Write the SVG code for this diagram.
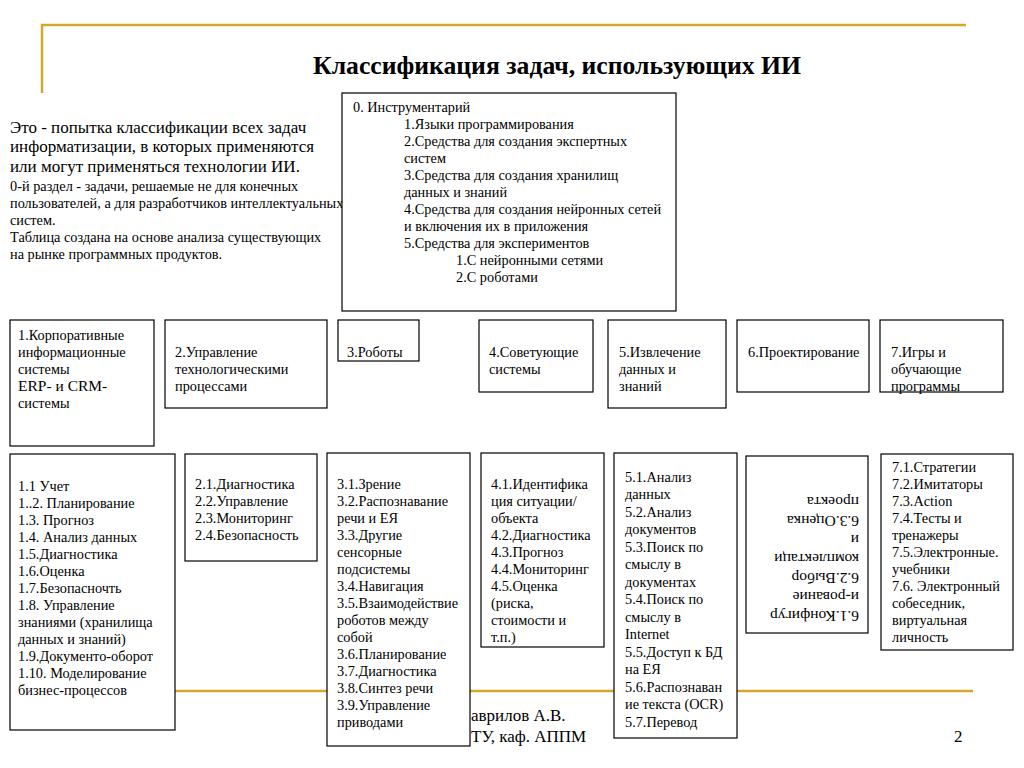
<svg xmlns="http://www.w3.org/2000/svg" width="1024" height="768" viewBox="0 0 1024 768">
<style>
.box{fill:#fff;stroke:#000;stroke-width:1.2}
.t{font-family:"Liberation Serif","Times New Roman",serif;font-size:14.3px;fill:#000}
.big{font-family:"Liberation Serif","Times New Roman",serif;font-size:17px;fill:#000}
.gold{stroke:#D2A92C;stroke-width:2.5;fill:none}
</style>
<rect width="1024" height="768" fill="#fff"/>
<g id="frame">
<path class="gold" d="M42,93 V25 H966"/>
<line class="gold" x1="42" y1="691" x2="973" y2="691"/>
</g>
<text x="313" y="74" textLength="488" lengthAdjust="spacingAndGlyphs" style="font-family:'Liberation Serif','Times New Roman',serif;font-size:25px;font-weight:bold">Классификация задач, использующих ИИ</text>
<g id="intro">
<text class="big" x="10" y="133">Это - попытка классификации всех задач</text>
<text class="big" x="10" y="152">информатизации, в которых применяются</text>
<text class="big" x="10" y="172">или могут применяться технологии ИИ.</text>
<text class="t" x="10" y="191">0-й раздел - задачи, решаемые не для конечных</text>
<text class="t" x="10" y="208">пользователей, а для разработчиков интеллектуальных</text>
<text class="t" x="10" y="225">систем.</text>
<text class="t" x="10" y="242">Таблица создана на основе анализа существующих</text>
<text class="t" x="10" y="259">на рынке программных продуктов.</text>
</g>
<g id="connectors"></g>
<g id="n0">
<rect class="box" x="342" y="93" width="334" height="218"/>
<text class="t"><tspan x="353" y="111.5">0. Инструментарий</tspan><tspan x="404" y="129">1.Языки программирования</tspan><tspan x="404" y="146">2.Средства для создания экспертных</tspan><tspan x="404" y="163">систем</tspan><tspan x="404" y="180">3.Средства для создания хранилищ</tspan><tspan x="404" y="197">данных и знаний</tspan><tspan x="404" y="214">4.Средства для создания нейронных сетей</tspan><tspan x="404" y="231">и включения их в приложения</tspan><tspan x="404" y="248">5.Средства для экспериментов</tspan><tspan x="456" y="265">1.С нейронными сетями</tspan><tspan x="456" y="282">2.С роботами</tspan></text>
</g>
<g id="n1">
<rect class="box" x="10" y="320" width="144" height="126"/>
<text class="t"><tspan x="18" y="339.5">1.Корпоративные</tspan><tspan x="18" y="356.5">информационные</tspan><tspan x="18" y="373.5">системы</tspan><tspan x="18" y="390.5" style="font-size:15.5px">ERP- и CRM-</tspan><tspan x="18" y="407.5">системы</tspan></text>
</g>
<g id="n2">
<rect class="box" x="165" y="320" width="162" height="88"/>
<text class="t"><tspan x="175" y="356.5">2.Управление</tspan><tspan x="175" y="373.5">технологическими</tspan><tspan x="175" y="390.5">процессами</tspan></text>
</g>
<g id="n3">
<rect class="box" x="338" y="320" width="81" height="41"/>
<text class="t" x="347" y="356.5">3.Роботы</text>
</g>
<g id="n4">
<rect class="box" x="479" y="320" width="114" height="72"/>
<text class="t"><tspan x="489" y="356.5">4.Советующие</tspan><tspan x="489" y="373.5">системы</tspan></text>
</g>
<g id="n5">
<rect class="box" x="608" y="320" width="118" height="88"/>
<text class="t"><tspan x="619" y="356.5">5.Извлечение</tspan><tspan x="619" y="373.5">данных и</tspan><tspan x="619" y="390.5">знаний</tspan></text>
</g>
<g id="n6">
<rect class="box" x="737" y="320" width="132" height="72"/>
<text class="t" x="748" y="356.5">6.Проектирование</text>
</g>
<g id="n7">
<rect class="box" x="880" y="320" width="123" height="72"/>
<text class="t"><tspan x="891" y="356.5">7.Игры и</tspan><tspan x="891" y="373.5">обучающие</tspan><tspan x="891" y="390.5">программы</tspan></text>
</g>
<g id="n1_1">
<rect class="box" x="10" y="454" width="165" height="276"/>
<text class="t"><tspan x="18" y="490.5">1.1 Учет</tspan><tspan x="18" y="507.5">1..2. Планирование</tspan><tspan x="18" y="524.5">1.3. Прогноз</tspan><tspan x="18" y="541.5">1.4. Анализ данных</tspan><tspan x="18" y="558.5">1.5.Диагностика</tspan><tspan x="18" y="575.5">1.6.Оценка</tspan><tspan x="18" y="592.5">1.7.Безопасночть</tspan><tspan x="18" y="609.5">1.8. Управление</tspan><tspan x="18" y="626.5">знаниями (хранилища</tspan><tspan x="18" y="643.5">данных и знаний)</tspan><tspan x="18" y="660.5">1.9.Документо-оборот</tspan><tspan x="18" y="677.5">1.10. Моделирование</tspan><tspan x="18" y="694.5">бизнес-процессов</tspan></text>
</g>
<g id="n2_1">
<rect class="box" x="185" y="454" width="132" height="107"/>
<text class="t"><tspan x="195" y="488.5">2.1.Диагностика</tspan><tspan x="195" y="505.5">2.2.Управление</tspan><tspan x="195" y="522.5">2.3.Мониторинг</tspan><tspan x="195" y="539.5">2.4.Безопасность</tspan></text>
</g>
<g id="footer">
<text class="big" x="471" y="721">аврилов А.В.</text>
<text class="big" x="471" y="742">ТУ, каф. АППМ</text>
<text class="big" x="954" y="742">2</text>
</g>
<g id="n3_1">
<rect class="box" x="327" y="453" width="143" height="293"/>
<text class="t"><tspan x="337" y="488.5">3.1.Зрение</tspan><tspan x="337" y="505.5">3.2.Распознавание</tspan><tspan x="337" y="522.5">речи и ЕЯ</tspan><tspan x="337" y="539.5">3.3.Другие</tspan><tspan x="337" y="556.5">сенсорные</tspan><tspan x="337" y="573.5">подсистемы</tspan><tspan x="337" y="590.5">3.4.Навигация</tspan><tspan x="337" y="607.5">3.5.Взаимодействие</tspan><tspan x="337" y="624.5">роботов между</tspan><tspan x="337" y="641.5">собой</tspan><tspan x="337" y="658.5">3.6.Планирование</tspan><tspan x="337" y="675.5">3.7.Диагностика</tspan><tspan x="337" y="692.5">3.8.Синтез речи</tspan><tspan x="337" y="709.5">3.9.Управление</tspan><tspan x="337" y="726.5">приводами</tspan></text>
</g>
<g id="n4_1">
<rect class="box" x="481" y="453" width="123" height="194"/>
<text class="t"><tspan x="491" y="488.5">4.1.Идентифика</tspan><tspan x="491" y="505.5">ция ситуации/</tspan><tspan x="491" y="522.5">объекта</tspan><tspan x="491" y="539.5">4.2.Диагностика</tspan><tspan x="491" y="556.5">4.3.Прогноз</tspan><tspan x="491" y="573.5">4.4.Мониторинг</tspan><tspan x="491" y="590.5">4.5.Оценка</tspan><tspan x="491" y="607.5">(риска,</tspan><tspan x="491" y="624.5">стоимости и</tspan><tspan x="491" y="641.5">т.п.)</tspan></text>
</g>
<g id="n5_1">
<rect class="box" x="614" y="453" width="123" height="285"/>
<text class="t"><tspan x="625" y="481.5">5.1.Анализ</tspan><tspan x="625" y="499">данных</tspan><tspan x="625" y="516.5">5.2.Анализ</tspan><tspan x="625" y="534">документов</tspan><tspan x="625" y="551.5">5.3.Поиск по</tspan><tspan x="625" y="569">смыслу в</tspan><tspan x="625" y="586.5">документах</tspan><tspan x="625" y="604">5.4.Поиск по</tspan><tspan x="625" y="621.5">смыслу в</tspan><tspan x="625" y="639">Internet</tspan><tspan x="625" y="656.5">5.5.Доступ к БД</tspan><tspan x="625" y="674">на ЕЯ</tspan><tspan x="625" y="691.5">5.6.Распознаван</tspan><tspan x="625" y="709">ие текста (OCR)</tspan><tspan x="625" y="726.5">5.7.Перевод</tspan></text>
</g>
<g id="n6_1">
<rect class="box" x="746" y="456" width="122" height="177"/>
<text class="t" style="font-size:15.5px" transform="rotate(180 807 544.5)"><tspan x="755" y="478.5">6.1.Конфигур</tspan><tspan x="755" y="497.5">и-рование</tspan><tspan x="755" y="516.5">6.2.Выбор</tspan><tspan x="755" y="535.5">комплектаци</tspan><tspan x="755" y="554.5">и</tspan><tspan x="755" y="573.5">6.3.Оценка</tspan><tspan x="755" y="592.5">проекта</tspan></text>
</g>
<g id="n7_1">
<rect class="box" x="881" y="454" width="132" height="196"/>
<text class="t"><tspan x="892" y="471.5">7.1.Стратегии</tspan><tspan x="892" y="488.5">7.2.Имитаторы</tspan><tspan x="892" y="505.5">7.3.Action</tspan><tspan x="892" y="522.5">7.4.Тесты и</tspan><tspan x="892" y="539.5">тренажеры</tspan><tspan x="892" y="556.5">7.5.Электронные.</tspan><tspan x="892" y="573.5">учебники</tspan><tspan x="892" y="590.5">7.6. Электронный</tspan><tspan x="892" y="607.5">собеседник,</tspan><tspan x="892" y="624.5">виртуальная</tspan><tspan x="892" y="641.5">личность</tspan></text>
</g>
</svg>
